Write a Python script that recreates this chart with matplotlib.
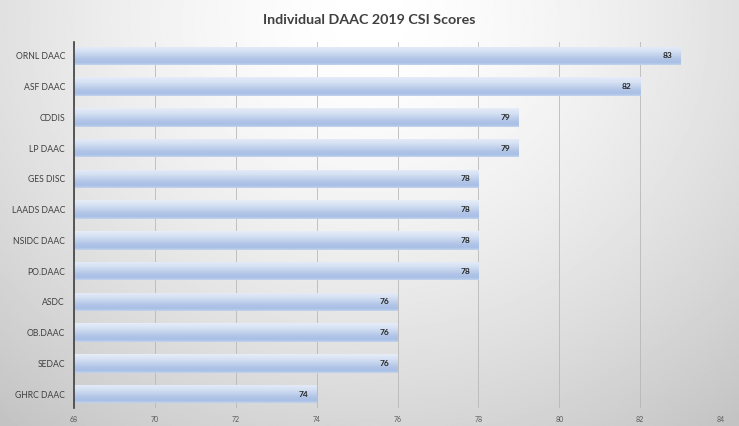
import numpy as np
import matplotlib
matplotlib.use("Agg")
import matplotlib.pyplot as plt
from matplotlib.colors import LinearSegmentedColormap

# ---- data ----
centers = ["ORNL DAAC", "ASF DAAC", "CDDIS", "LP DAAC", "GES DISC", "LAADS DAAC",
           "NSIDC DAAC", "PO.DAAC", "ASDC", "OB.DAAC", "SEDAC", "GHRC DAAC"]
scores = [83, 82, 79, 79, 78, 78, 78, 78, 76, 76, 76, 74]
xticks = [68, 70, 72, 74, 76, 78, 80, 82, 84]
title = "Individual DAAC 2019 CSI Scores"

plt.rcParams['font.family'] = ['Lato', 'DejaVu Sans']

W, H = 739, 426
fig = plt.figure(figsize=(W / 100, H / 100), dpi=100)

# radial background
bg = fig.add_axes([0, 0, 1, 1], zorder=-10)
yy, xx = np.mgrid[0:1:300j, 0:1:500j]
d = np.sqrt(((xx - 0.5) / 0.7) ** 2 + ((yy - 0.05) / 1.1) ** 2)
val = np.clip(255 - 51 * d ** 1.52, 0, 255) / 255.0
bg.imshow(val, cmap='gray', vmin=0, vmax=1, aspect='auto', extent=(0, 1, 0, 1), origin='upper')
bg.set_axis_off()

ax = fig.add_axes([74 / W, 1 - 408 / H, (721 - 74) / W, (408 - 42) / H])
ax.set_facecolor('none')

n = len(centers)
ypos = np.arange(n)[::-1]
h = 0.6
bars = ax.barh(ypos, [s - xticks[0] for s in scores], left=xticks[0], height=h,
               color='#bccdea', edgecolor='none', zorder=3)

cmap = LinearSegmentedColormap.from_list('barg', [
    (0.0, '#e6edf8'), (0.3, '#d3dff2'), (0.7, '#b0c4e7'), (0.88, '#a9bfe5'), (1.0, '#c3d3ee')])
grad = np.linspace(0, 1, 64).reshape(-1, 1)
for b, y, s in zip(bars, ypos, scores):
    im = ax.imshow(grad, cmap=cmap, aspect='auto', origin='upper',
                   extent=(xticks[0], s, y - h / 2, y + h / 2), zorder=4)
    im.set_clip_path(b)
    ax.annotate(str(s), xy=(s, y), xytext=(-6, 0), textcoords='offset points',
                ha='right', va='center', fontsize=6, fontweight='bold',
                color='#262626', zorder=5)

ax.set_xlim(xticks[0], xticks[-1])
ax.set_ylim(-0.45, n - 1 + 0.45)
ax.set_xticks(xticks)
ax.set_xticklabels([str(t) for t in xticks])
ax.set_yticks(ypos)
ax.set_yticklabels(centers)
ax.tick_params(axis='x', length=0, pad=6, labelsize=5, labelcolor='#595959')
ax.tick_params(axis='y', length=0, pad=6.5, labelsize=6.2, labelcolor='#404040')
ax.grid(axis='x', color='#b5b5b5', linewidth=0.7, alpha=0.8, zorder=1)
ax.set_axisbelow(True)
for sp in ['top', 'right', 'bottom']:
    ax.spines[sp].set_visible(False)
ax.spines['left'].set_color('#404040')
ax.spines['left'].set_linewidth(1.2)
ax.spines['left'].set_zorder(6)

fig.text(0.5, 1 - 20 / H, title, ha='center', va='center', fontsize=10.3,
         fontweight='bold', color='#404040')

fig.savefig('out.png', dpi=100)
